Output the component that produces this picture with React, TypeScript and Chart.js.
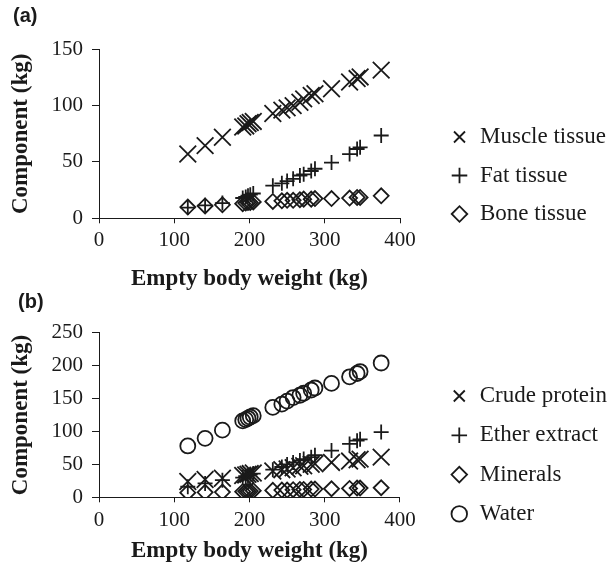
import React, { useEffect, useRef } from 'react';
import { Chart, registerables } from 'chart.js';

Chart.register(...registerables);

// Empty body weight of each animal (kg)
const weightKg = [118, 141, 164, 191, 195, 198, 201, 205, 231, 243, 250, 258, 267, 272, 282, 287, 309, 333, 343, 347, 375];

// Panel (a): tissues (kg)
const muscleKg = [57, 64.5, 72, 81, 82, 84, 85, 86, 93, 96, 98, 100, 103, 106, 109, 110.5, 115, 121, 124, 125.5, 131.5];
const fatKg = [9.5, 11.5, 13.5, 18, 19, 20, 21, 22, 29, 31, 33, 35, 38, 39, 42, 44, 49.5, 57, 61.5, 63, 73.5];
const boneKg = [10, 11, 12, 13, 13.5, 14, 14, 14.5, 15, 15.5, 16, 16, 16.5, 17, 17, 17.5, 17.5, 18, 18.5, 18.5, 20];

// Panel (b): chemical components (kg)
const proteinKg = [24, 27, 29, 33, 34, 35, 36, 37, 40, 42, 43, 45, 47, 48, 50, 51, 53, 55, 57, 58, 61];
const etherKg = [16, 21, 26, 30, 32, 33, 35, 36, 42, 46, 50, 53, 56, 58, 61, 64, 71, 81, 86, 88, 99];
const mineralsKg = [7, 7.5, 8, 8.5, 9, 9, 9.5, 10, 10.5, 11, 11, 11.5, 12, 12, 12.5, 12.5, 13, 13.5, 14, 14, 14.5];
const waterKg = [78, 89.5, 102, 116, 118, 120, 122, 124, 136.5, 141.5, 146, 151.5, 155, 158, 163, 166, 173, 183, 188, 191, 204];

const xTicks = [0, 100, 200, 300, 400];
const yTicksA = [0, 50, 100, 150];
const yTicksB = [0, 50, 100, 150, 200, 250];

const INK = '#1a1a1a';
const SERIF = "'Liberation Serif', 'Times New Roman', serif";
const SANS = "'Liberation Sans', Arial, sans-serif";

type Series = { label: string; values: number[]; style: string; radius: number };

const seriesA: Series[] = [
  { label: 'Muscle tissue', values: muscleKg, style: 'crossRot', radius: 11.8 },
  { label: 'Fat tissue', values: fatKg, style: 'cross', radius: 7.5 },
  { label: 'Bone tissue', values: boneKg, style: 'rectRot', radius: 7.5 },
];
const seriesB: Series[] = [
  { label: 'Crude protein', values: proteinKg, style: 'crossRot', radius: 11.8 },
  { label: 'Ether extract', values: etherKg, style: 'cross', radius: 7.5 },
  { label: 'Minerals', values: mineralsKg, style: 'rectRot', radius: 7.5 },
  { label: 'Water', values: waterKg, style: 'circle', radius: 7.5 },
];

// Moves the legend box a fixed distance to the right of the plot area and lets it use the rest of the canvas width.
const legendShift = {
  id: 'legendShift',
  afterLayout(chart: any, _args: any, opts: any) {
    const lg = chart.legend;
    if (!lg) return;
    lg.left = chart.chartArea.right + (opts.offset || 0);
    lg.right = chart.width;
    lg.width = lg.right - lg.left;
  },
};

type PanelCfg = {
  tag: string;
  series: Series[];
  yTicks: number[];
  height: number;
  padLeft: number;
  padRight: number;
  tagPad: { top: number; bottom: number };
  legendGap: number;
  legendPad: number;
  legendOffset: number;
  xTickPad: number;
  xTitlePad: { top: number; bottom: number };
  yTitlePadTop: number;
};

function Panel({ cfg, top }: { cfg: PanelCfg; top: number }) {
  const ref = useRef<HTMLCanvasElement | null>(null);
  useEffect(() => {
    if (!ref.current) return;
    const yMax = cfg.yTicks[cfg.yTicks.length - 1];
    const chart = new Chart(ref.current, {
      type: 'scatter',
      data: {
        datasets: cfg.series.map((s) => ({
          label: s.label,
          data: weightKg.map((w, i) => ({ x: w, y: s.values[i] })),
          pointStyle: s.style as any,
          pointRadius: s.radius,
          pointHoverRadius: s.radius,
          pointBorderWidth: 1.8,
          borderWidth: 1.8,
          borderColor: INK,
          backgroundColor: 'rgba(0,0,0,0)',
          pointBorderColor: INK,
          pointBackgroundColor: 'rgba(0,0,0,0)',
          showLine: false,
          xAxisID: 'x',
          yAxisID: 'y',
        })),
      },
      plugins: [legendShift],
      options: {
        animation: false,
        responsive: false,
        maintainAspectRatio: false,
        events: [],
        layout: { padding: { left: cfg.padLeft, top: 0, right: cfg.padRight, bottom: 0 } },
        plugins: {
          legendShift: { offset: cfg.legendOffset },
          title: {
            display: true,
            text: cfg.tag,
            align: 'start',
            color: INK,
            font: { family: SANS, size: 20, weight: 'bold', lineHeight: 1.2 },
            padding: cfg.tagPad,
          },
          legend: {
            display: true,
            position: 'right',
            align: 'start',
            fullSize: true,
            title: { display: true, text: '', font: { size: 12 }, padding: { top: cfg.legendGap, bottom: 0 } },
            labels: {
              usePointStyle: true,
              boxWidth: 18,
              boxHeight: 11,
              padding: cfg.legendPad,
              color: INK,
              font: { family: SERIF, size: 23 },
            },
          },
          tooltip: { enabled: false },
        },
        scales: {
          x: {
            type: 'linear',
            position: 'bottom',
            min: xTicks[0],
            max: xTicks[xTicks.length - 1],
            afterBuildTicks: (s: any) => { s.ticks = xTicks.map((v) => ({ value: v })); },
            ticks: { color: INK, font: { family: SERIF, size: 21 }, padding: cfg.xTickPad },
            grid: { display: true, drawOnChartArea: false, drawTicks: true, tickLength: 5, color: INK, lineWidth: 1 },
            border: { display: true, color: INK, width: 1 },
            title: {
              display: true,
              text: 'Empty body weight (kg)',
              color: INK,
              font: { family: SERIF, size: 23, weight: 'bold', lineHeight: 1.2 },
              padding: cfg.xTitlePad,
            },
          },
          y: {
            type: 'linear',
            position: 'left',
            min: 0,
            max: yMax,
            afterBuildTicks: (s: any) => { s.ticks = cfg.yTicks.map((v) => ({ value: v })); },
            ticks: { color: INK, font: { family: SERIF, size: 21 }, padding: 9 },
            grid: { display: true, drawOnChartArea: false, drawTicks: true, tickLength: 7, color: INK, lineWidth: 1 },
            border: { display: true, color: INK, width: 1 },
            title: {
              display: true,
              text: 'Component (kg)',
              color: INK,
              font: { family: SERIF, size: 23, weight: 'bold', lineHeight: 1.2 },
              padding: { top: cfg.yTitlePadTop, bottom: 0 },
            },
            afterFit: (s: any) => { s.width = 99 - cfg.padLeft; },
          },
        },
      } as any,
    });
    return () => chart.destroy();
  }, [cfg]);
  return (
    <canvas
      ref={ref}
      width={611}
      height={cfg.height}
      style={{ position: 'absolute', left: 0, top, width: 611, height: cfg.height, display: 'block' }}
    />
  );
}

const cfgA: PanelCfg = {
  tag: '(a)',
  series: seriesA,
  yTicks: yTicksA,
  height: 290,
  padLeft: 13,
  padRight: 82,
  tagPad: { top: 4, bottom: 21.3 },
  legendGap: 95.6,
  legendPad: 15.5,
  legendOffset: 35,
  xTickPad: 5,
  xTitlePad: { top: 6.9, bottom: -3 },
  yTitlePadTop: -5.3,
};

const cfgB: PanelCfg = {
  tag: '(b)',
  series: seriesB,
  yTicks: yTicksB,
  height: 274,
  padLeft: 18,
  padRight: 83.7,
  tagPad: { top: 0, bottom: 18.7 },
  legendGap: 63.8,
  legendPad: 16.3,
  legendOffset: 34,
  xTickPad: 6,
  xTitlePad: { top: -2.3, bottom: -0.8 },
  yTitlePadTop: -10.3,
};

export default function App() {
  return (
    <div style={{ position: 'absolute', left: 0, top: 0, width: 611, height: 564, background: '#ffffff', overflow: 'hidden' }}>
      <Panel cfg={cfgA} top={0} />
      <Panel cfg={cfgB} top={290} />
    </div>
  );
}
